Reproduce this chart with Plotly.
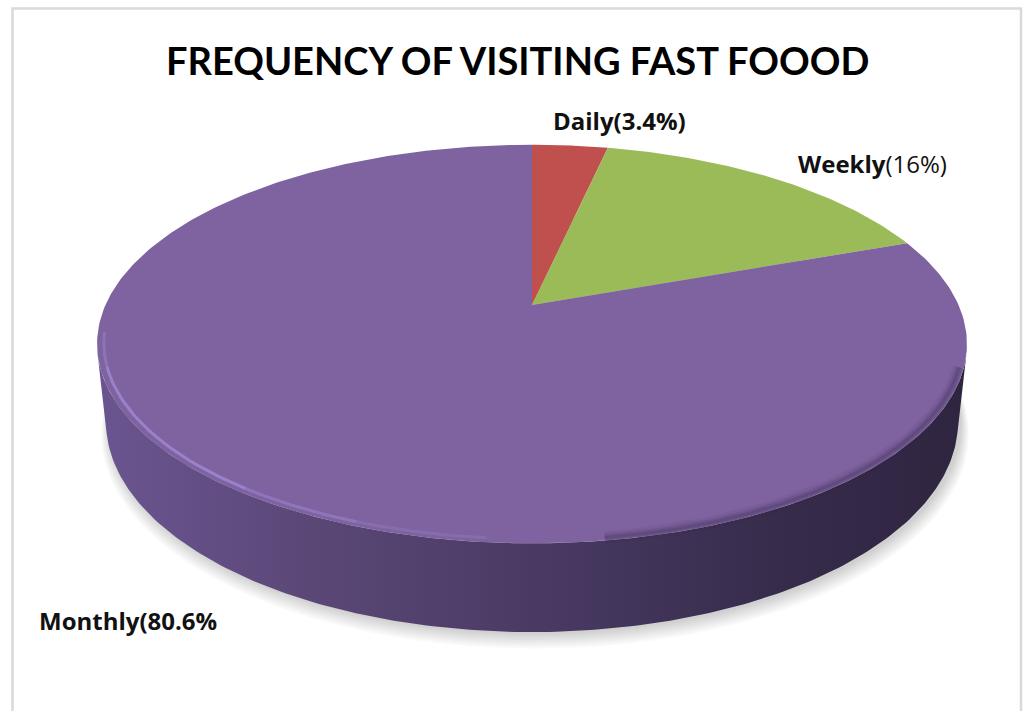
import numpy as np
import plotly.graph_objects as go

# Survey shares (percent)
categories = ["Daily", "Weekly", "Monthly"]
shares = [3.4, 16, 80.6]
slice_colors = ["#C0504D", "#9BBB59", "#7F63A1"]
title_text = "FREQUENCY OF VISITING FAST FOOOD"

# Canvas and 3D camera set-up for the tilted pie
W, H = 1026, 711
CX, CY = 532, 305          # screen position of the pie centre
SCALE = 1945.0             # focal scale
DIST = 4.56                # camera distance (pie radius = 1)
TILT = np.radians(26.7)    # elevation of the camera
THICK = 0.2045             # pie thickness (in radii)


def project(u, v, z):
    """Perspective projection of pie-space points to screen coordinates."""
    depth = DIST + v * np.cos(TILT) - z * np.sin(TILT)
    yc = v * np.sin(TILT) + z * np.cos(TILT)
    return CX + SCALE * u / depth, CY - SCALE * yc / depth


def rim(a0, a1, z=0.0, r=1.0, n=200):
    a = np.linspace(a0, a1, n)
    return project(r * np.sin(a), r * np.cos(a), z)


fig = go.Figure()

# soft drop shadow under the pie
for i in range(8):
    sx, sy = rim(0, 2 * np.pi, z=-THICK, r=1.0 + 0.0025 * i, n=240)
    fig.add_trace(go.Scatter(x=sx + 3, y=sy + 2 + 1.3 * i, mode="lines", fill="toself",
                             fillcolor="rgba(0,0,0,0.022)", line=dict(width=0),
                             hoverinfo="skip", showlegend=False))

# angular extents of slices (clockwise from 12 o'clock)
fractions = np.array(shares) / np.sum(shares)
edges = np.concatenate([[0.0], np.cumsum(fractions)]) * 2 * np.pi

# visible outer wall: only the part facing the camera
a_lim = np.arccos(-1.0 / (DIST * np.cos(TILT)))
for k in range(len(shares)):
    lo = max(edges[k], a_lim)
    hi = min(edges[k + 1], 2 * np.pi - a_lim)
    if hi <= lo:
        continue
    tx, ty = rim(lo, hi, z=0.0)
    bx, by = rim(lo, hi, z=-THICK)
    fig.add_trace(go.Scatter(
        x=np.concatenate([tx, bx[::-1]]), y=np.concatenate([ty, by[::-1]]),
        mode="lines", fill="toself", line=dict(width=0),
        fillgradient=dict(type="horizontal",
                          colorscale=[[0, "#6B5591"], [0.25, "#5A4776"],
                                      [0.55, "#463860"], [0.8, "#362B4A"],
                                      [1, "#2F2540"]]),
        hoverinfo="skip", showlegend=False))

# top face slices
for k, (name, col) in enumerate(zip(categories, slice_colors)):
    ax, ay = rim(edges[k], edges[k + 1], z=0.0, n=max(30, int(400 * fractions[k])))
    cx0, cy0 = project(0.0, 0.0, 0.0)
    fig.add_trace(go.Scatter(
        x=np.concatenate([[cx0], ax, [cx0]]), y=np.concatenate([[cy0], ay, [cy0]]),
        mode="lines", fill="toself", fillcolor=col, line=dict(width=0, color=col),
        name=name, hoverinfo="name", showlegend=False))

# bevel: dark soft band on the right-front rim
for w, alpha in [(12, 0.08), (7, 0.12), (3, 0.16)]:
    bx, by = rim(np.radians(108), np.radians(172), z=0.0, r=0.99)
    fig.add_trace(go.Scatter(x=bx, y=by, mode="lines",
                             line=dict(color=f"rgba(35,25,55,{alpha})", width=w),
                             hoverinfo="skip", showlegend=False))

# bevel: light highlight on the left-front rim
hl = [(185, 200, 0.25), (200, 215, 0.5), (215, 252, 0.8), (252, 262, 0.45)]
for a0, a1, alpha in hl:
    hx, hy = rim(np.radians(a0), np.radians(a1), z=0.0, r=0.985, n=40)
    fig.add_trace(go.Scatter(x=hx, y=hy, mode="lines",
                             line=dict(color=f"rgba(160,138,212,{alpha})", width=3),
                             hoverinfo="skip", showlegend=False))

font_t = "Lato, 'Open Sans', sans-serif"
font_l = "'Open Sans', Lato, sans-serif"
labels = [
    dict(x=551, y=120, text=f"<b>{categories[0]}({shares[0]:g}%)</b>"),
    dict(x=796, y=163, text=f"<b>{categories[1]}</b>({shares[1]:g}%)"),
    dict(x=37, y=620, text=f"<b>{categories[2]}({shares[2]:g}%</b>"),
]
annotations = [
    dict(x=517, y=60, xref="x", yref="y", text=f"<b>{title_text}</b>", showarrow=False,
         xanchor="center", yanchor="middle", font=dict(family=font_t, size=38, color="#000000"))
]
for lb in labels:
    annotations.append(dict(x=lb["x"], y=lb["y"], xref="x", yref="y", text=lb["text"],
                            showarrow=False, xanchor="left", yanchor="middle",
                            font=dict(family=font_l, size=24, color="#111111")))

fig.update_layout(
    width=W, height=H,
    margin=dict(l=0, r=0, t=0, b=0),
    paper_bgcolor="white", plot_bgcolor="white",
    xaxis=dict(range=[0, W], visible=False, fixedrange=True),
    yaxis=dict(range=[H, 0], visible=False, fixedrange=True),
    annotations=annotations,
    shapes=[dict(type="rect", xref="x", yref="y", x0=12.5, y0=8.5, x1=1021, y1=730,
                 line=dict(color="#D9D9D9", width=2.5), fillcolor="rgba(0,0,0,0)",
                 layer="below")],
    showlegend=False,
)

fig.write_html("out.html")
